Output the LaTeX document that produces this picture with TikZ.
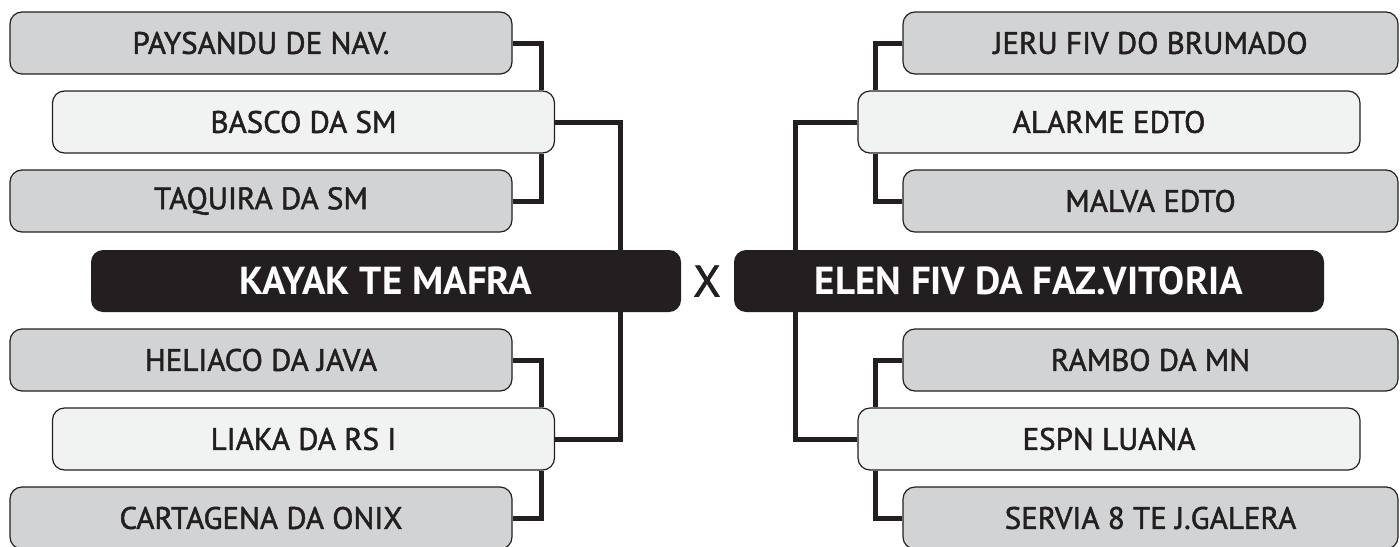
\documentclass[tikz,border=0pt]{standalone}
\usepackage{fontspec}
\setmainfont{PT Sans}
\newfontfamily\medfont{PT Sans}[FakeBold=1.6]
\usetikzlibrary{positioning}
\definecolor{boxgray}{HTML}{D1D3D4}
\definecolor{boxlight}{HTML}{F1F2F2}
\definecolor{boxdark}{HTML}{231F20}

\begin{document}
\begin{tikzpicture}[x=0.5pt,y=-0.5pt,
    wire/.style={line width=2.5pt,draw=boxdark},%
    team/.style={draw=boxdark,line width=0.6pt,fill=boxgray,rounded corners=6pt,minimum width=251pt,minimum height=31pt,text=boxdark,font=\fontsize{15.5}{16}\medfont},%
    seed/.style={team,fill=boxlight},%
    final/.style={fill=boxdark,text=white,rounded corners=6pt,minimum width=295pt,minimum height=31pt,font=\fontsize{19.5}{20}\selectfont\bfseries}]
    \useasboundingbox (0,0) rectangle (1400,546);
    % left side
    \node[team] (pay) at (261,43) {PAYSANDU DE NAV.};
    \node[seed] (basco) at (303.5,122) {BASCO DA SM};
    \node[team] (taq) at (261,201) {TAQUIRA DA SM};
    \node[final] (kayak) at (386,281) {KAYAK TE MAFRA};
    \node[team] (heli) at (261,360) {HELIACO DA JAVA};
    \node[seed] (liaka) at (303.5,439) {LIAKA DA RS I};
    \node[team] (cart) at (261,518) {CARTAGENA DA ONIX};
    \node[text=boxdark,font=\fontsize{22}{22}\medfont] (vs) at (707,281) {X};
    % right side
    \node[final] (elen) at (1029,281) {ELEN FIV DA FAZ.VITORIA};
    \node[team,minimum width=247.5pt] (jeru) at (1150.5,43) {JERU FIV DO BRUMADO};
    \node[seed] (alarme) at (1109,122) {ALARME EDTO};
    \node[team,minimum width=247.5pt] (malva) at (1150.5,201) {MALVA EDTO};
    \node[team,minimum width=247.5pt] (rambo) at (1150.5,360) {RAMBO DA MN};
    \node[seed] (espn) at (1109,439) {ESPN LUANA};
    \node[team,minimum width=247.5pt] (servia) at (1150.5,518) {SERVIA 8 TE J.GALERA};

    \coordinate (lx) at (541,0);
    \coordinate (kx) at (620,0);
    \coordinate (rx) at (875,0);
    \coordinate (ex) at (795,0);

    \draw[wire] (pay.east) -| (lx |- basco.north);
    \draw[wire] (taq.east) -| (lx |- basco.south);
    \draw[wire] (basco.east) -| (kx |- kayak.north);
    \draw[wire] (heli.east) -| (lx |- liaka.north);
    \draw[wire] (cart.east) -| (lx |- liaka.south);
    \draw[wire] (liaka.east) -| (kx |- kayak.south);

    \draw[wire] (jeru.west) -| (rx |- alarme.north);
    \draw[wire] (malva.west) -| (rx |- alarme.south);
    \draw[wire] (alarme.west) -| (ex |- elen.north);
    \draw[wire] (rambo.west) -| (rx |- espn.north);
    \draw[wire] (servia.west) -| (rx |- espn.south);
    \draw[wire] (espn.west) -| (ex |- elen.south);
\end{tikzpicture}
\end{document}
